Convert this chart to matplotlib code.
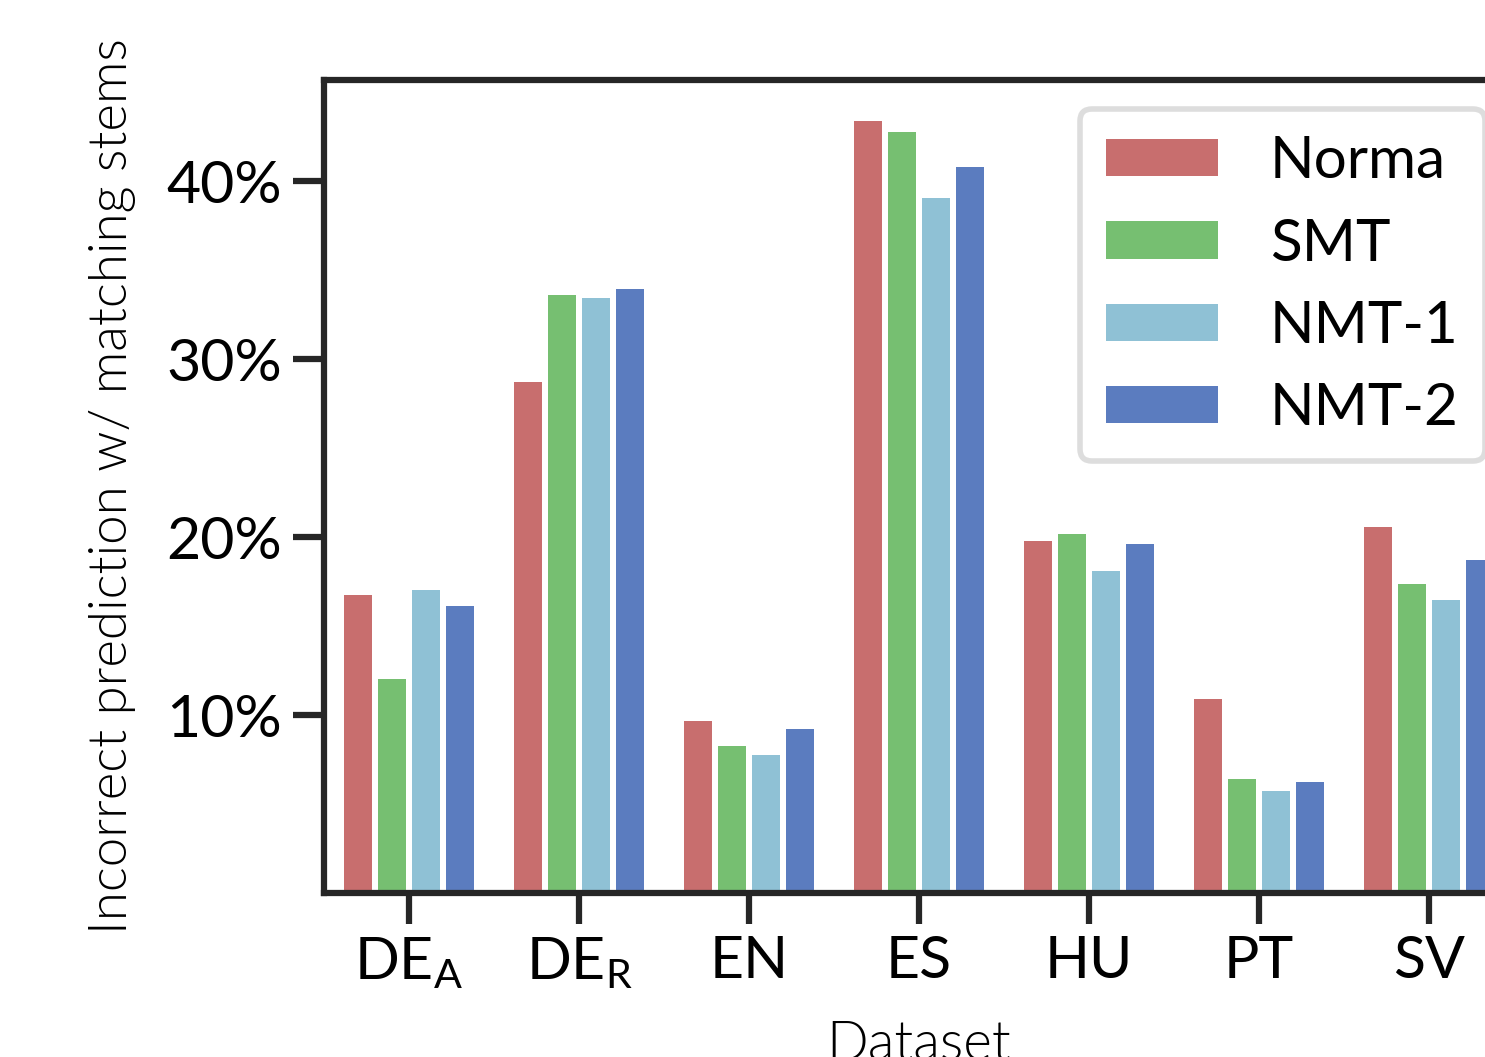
import numpy as np
import matplotlib.pyplot as plt

datasets = ["DE$_\\mathrm{A}$", "DE$_\\mathrm{R}$", "EN", "ES", "HU", "PT", "SV"]
systems = ["Norma", "SMT", "NMT-1", "NMT-2"]
colors = ["#C86E6E", "#76BF71", "#8FC1D5", "#5B7CBF"]

norma = [16.75, 28.74, 9.66, 43.37, 19.79, 10.90, 20.58]
smt = [12.03, 33.64, 8.26, 42.76, 20.19, 6.40, 17.37]
nmt1 = [17.03, 33.47, 7.75, 39.04, 18.10, 5.73, 16.47]
nmt2 = [16.13, 33.97, 9.21, 40.79, 19.62, 6.23, 18.72]

plt.rcParams["font.family"] = ["Lato", "DejaVu Sans"]
plt.rcParams["mathtext.fontset"] = "custom"
plt.rcParams["mathtext.rm"] = "Lato"
plt.rcParams["mathtext.it"] = "Lato:italic"
plt.rcParams["mathtext.bf"] = "Lato:bold"

fs = 42.5
dark = "#262626"

fig = plt.figure(figsize=(14.85, 10.57), dpi=100)
ax = fig.add_axes([324 / 1485, 1 - 893 / 1057, 1190 / 1485, 813 / 1057])

x = np.arange(len(datasets))
slot = 0.2
for i, (vals, name, col) in enumerate(zip([norma, smt, nmt1, nmt2], systems, colors)):
    ax.bar(x - 0.3 + i * slot, vals, width=slot * 28.7 / 34, color=col,
           linewidth=0, label=name)

ax.set_xlim(-0.5, len(datasets) - 0.5)
ax.set_ylim(0, 45.7)
ax.set_yticks([10, 20, 30, 40])
ax.set_yticklabels([f"{v}%" for v in [10, 20, 30, 40]])
ax.set_xticks(x)
ax.set_xticklabels(datasets)

for s in ax.spines.values():
    s.set_linewidth(4.5)
    s.set_color(dark)
ax.tick_params(axis="both", length=22, width=4.5, color=dark, labelsize=fs,
               labelcolor="black", pad=8)

ax.set_xlabel("Dataset", fontsize=39.5, fontweight=300, labelpad=22)
ax.set_ylabel("Incorrect prediction w/ matching stems", fontsize=38,
              fontweight=300, labelpad=22)

leg = ax.legend(loc="upper right", fontsize=42, frameon=True, fancybox=True,
                handlelength=1.92, handleheight=0.6, handletextpad=0.88,
                labelspacing=0.5, borderpad=0.45, borderaxespad=0.5)
leg.get_frame().set_edgecolor("#D5D5D5")
leg.get_frame().set_linewidth(4)

fig.savefig("out.png", dpi=100)
